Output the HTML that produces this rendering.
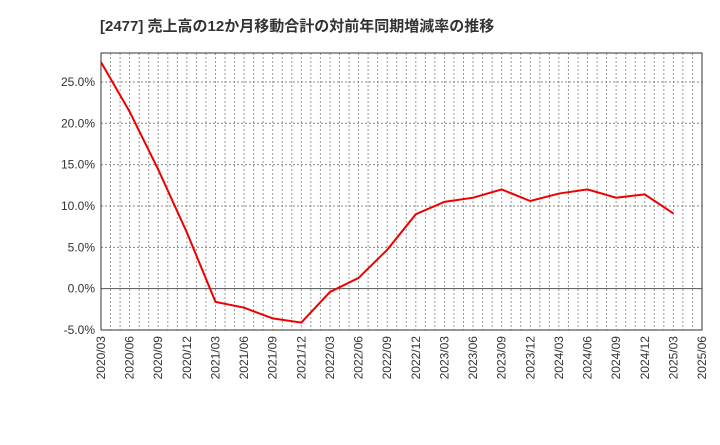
<!DOCTYPE html>
<html><head><meta charset="utf-8"><style>
body{margin:0;background:#fff;}
svg text{font-family:"Liberation Sans","Noto Sans CJK JP",sans-serif;}
</style></head><body>
<svg id="c" width="720" height="440">
<text x="100" y="31" font-size="15" font-weight="bold" fill="#333">[2477]  売上高の12か月移動合計の対前年同期増減率の推移</text>
<g id="grid"></g><g id="axes"></g><g id="series"></g>
</svg>
<script>
const xLabels=["2020/03","2020/06","2020/09","2020/12","2021/03","2021/06","2021/09","2021/12","2022/03","2022/06","2022/09","2022/12","2023/03","2023/06","2023/09","2023/12","2024/03","2024/06","2024/09","2024/12","2025/03","2025/06"];
const values=[27.4,21.4,14.4,6.8,-1.6,-2.3,-3.6,-4.1,-0.4,1.3,4.7,9.0,10.5,11.0,12.0,10.6,11.5,12.0,11.0,11.4,9.1];
const yTicks=[-5,0,5,10,15,20,25];
const L=101,R=702,T=53,B=330,yMin=-5,yMax=28.5;
const ns="http://www.w3.org/2000/svg";
const xs=i=>L+(R-L)*i/(xLabels.length-1);
const ys=v=>B-(v-yMin)/(yMax-yMin)*(B-T);
function mk(tag,attrs,parent){const e=document.createElementNS(ns,tag);for(const k in attrs)e.setAttribute(k,attrs[k]);document.getElementById(parent).appendChild(e);return e;}
for(let m=1;m<(xLabels.length-1)*3;m++){const x=L+(R-L)*m/((xLabels.length-1)*3);
const g=mk('line',{x1:x,x2:x,y1:T,y2:B,stroke:'#999','stroke-dasharray':'2,2','stroke-width':1},'grid');

}
yTicks.forEach(v=>{const y=ys(v);
const g=mk('line',{x1:L,x2:R,y1:y,y2:y,stroke:v===0?'#555':'#888','stroke-dasharray':v===0?'none':'2,2','stroke-width':1},'grid');


const t=mk('text',{x:L-6,y:y+4,'text-anchor':'end','font-size':12,fill:'#333'},'axes');t.textContent=v.toFixed(1)+'%';

});
xLabels.forEach((lab,i)=>{const x=xs(i);
const t=mk('text',{transform:`translate(${x+4},${B+6}) rotate(-90)`,'text-anchor':'end','font-size':12,fill:'#333'},'axes');t.textContent=lab;

});
const f=mk('rect',{x:L,y:T,width:R-L,height:B-T,fill:'none',stroke:'#333','stroke-width':1},'axes');


const p=mk('polyline',{points:values.map((v,i)=>xs(i)+','+ys(v)).join(' '),fill:'none',stroke:'#e00','stroke-width':2},'series');


</script>
</body></html>
